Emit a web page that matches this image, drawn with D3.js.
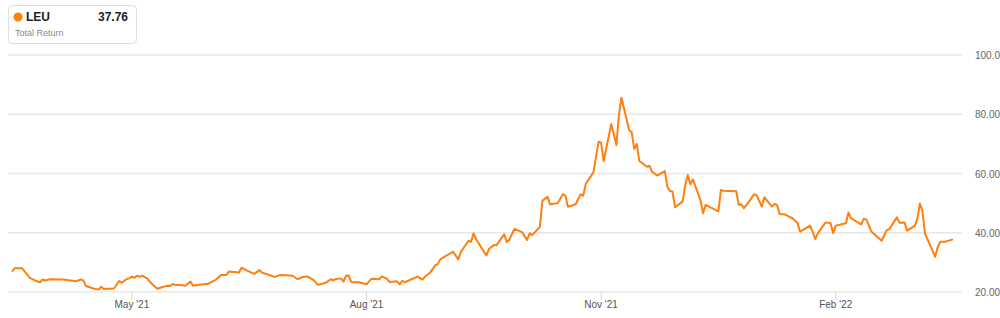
<!DOCTYPE html>
<html>
<head>
<meta charset="utf-8">
<script src="https://cdn.jsdelivr.net/npm/d3@7"></script>
<style>
  html, body { margin: 0; padding: 0; background: #fff; }
  svg { display: block; font-family: "Liberation Sans", Arial, sans-serif; }
</style>
</head>
<body>
<svg id="chart" width="1000" height="318"></svg>
<script>
const ticker = "LEU";
const lastValueLabel = "37.76";
const seriesLabel = "Total Return";
const yTicks = [20, 40, 60, 80, 100];
const xTickDates = ["2021-05-01", "2021-08-01", "2021-11-01", "2022-02-01"];
const xTickLabels = ["May '21", "Aug '21", "Nov '21", "Feb '22"];

const dates = [
  "2021-03-15","2021-03-16","2021-03-19","2021-03-22","2021-03-24","2021-03-26","2021-03-27","2021-03-28","2021-03-30",
  "2021-04-04","2021-04-09","2021-04-11","2021-04-12","2021-04-13","2021-04-16","2021-04-18","2021-04-19","2021-04-20",
  "2021-04-24","2021-04-26","2021-04-27","2021-04-29","2021-04-30",
  "2021-05-01","2021-05-02","2021-05-03","2021-05-04","2021-05-05","2021-05-07","2021-05-09","2021-05-11","2021-05-13",
  "2021-05-15","2021-05-16","2021-05-17","2021-05-18","2021-05-20","2021-05-22","2021-05-24","2021-05-25","2021-05-28","2021-05-31",
  "2021-06-03","2021-06-05","2021-06-07","2021-06-08","2021-06-12","2021-06-13","2021-06-15","2021-06-18","2021-06-20","2021-06-21",
  "2021-06-26","2021-06-28",
  "2021-07-03","2021-07-05","2021-07-07","2021-07-09","2021-07-11","2021-07-13","2021-07-16","2021-07-18","2021-07-19","2021-07-20",
  "2021-07-22","2021-07-23","2021-07-24","2021-07-25","2021-07-26","2021-07-29",
  "2021-08-01","2021-08-03","2021-08-06","2021-08-07","2021-08-09","2021-08-10","2021-08-13","2021-08-14","2021-08-15","2021-08-16",
  "2021-08-21","2021-08-23","2021-08-24","2021-08-26","2021-08-28","2021-08-29","2021-08-30",
  "2021-09-04","2021-09-06","2021-09-07","2021-09-10","2021-09-11","2021-09-12","2021-09-13","2021-09-17","2021-09-18","2021-09-20",
  "2021-09-21","2021-09-24","2021-09-25","2021-09-26","2021-09-28",
  "2021-10-01","2021-10-03","2021-10-04","2021-10-05","2021-10-08","2021-10-09","2021-10-11","2021-10-12","2021-10-15","2021-10-17",
  "2021-10-18","2021-10-19","2021-10-22","2021-10-24","2021-10-25","2021-10-26","2021-10-29","2021-10-31",
  "2021-11-01","2021-11-02","2021-11-05","2021-11-07","2021-11-08","2021-11-09","2021-11-12","2021-11-13","2021-11-14","2021-11-15",
  "2021-11-16","2021-11-19","2021-11-20","2021-11-21","2021-11-23","2021-11-26","2021-11-27","2021-11-28","2021-11-29","2021-11-30",
  "2021-12-03","2021-12-04","2021-12-05","2021-12-06","2021-12-07","2021-12-10","2021-12-11","2021-12-12","2021-12-17","2021-12-18",
  "2021-12-19","2021-12-24","2021-12-25","2021-12-26","2021-12-27","2021-12-29","2021-12-31",
  "2022-01-01","2022-01-03","2022-01-04","2022-01-07","2022-01-08","2022-01-09","2022-01-10","2022-01-12","2022-01-15","2022-01-17",
  "2022-01-18","2022-01-22","2022-01-24","2022-01-25","2022-01-28","2022-01-30","2022-01-31",
  "2022-02-01","2022-02-05","2022-02-06","2022-02-07","2022-02-11","2022-02-12","2022-02-13","2022-02-15","2022-02-19","2022-02-21",
  "2022-02-22","2022-02-25","2022-02-26","2022-02-28",
  "2022-03-01","2022-03-04","2022-03-05","2022-03-06","2022-03-07","2022-03-08","2022-03-12","2022-03-13","2022-03-14","2022-03-16",
  "2022-03-19"
];

const values = [
  26.9,28.0,28.0,24.8,23.9,23.3,24.2,23.9,24.3,
  24.2,23.6,24.2,23.9,22.0,21.2,20.8,21.8,21.0,
  21.2,23.7,23.1,24.4,24.6,
  25.2,24.8,25.5,25.1,25.5,24.6,22.6,21.1,21.7,
  22.1,22.0,22.7,22.4,22.4,22.1,23.5,22.1,22.5,22.8,
  24.2,25.7,25.7,26.9,26.6,28.2,27.3,26.1,27.4,26.6,
  25.1,25.7,
  25.5,24.3,25.1,25.2,24.2,22.4,23.1,24.3,23.9,24.4,
  24.6,23.5,25.5,25.6,23.4,23.3,
  22.6,24.5,24.3,25.3,24.5,23.4,23.6,22.6,23.8,23.3,
  25.2,24.2,25.2,26.6,29.0,29.5,31.1,
  33.6,31.0,33.5,37.3,36.9,39.8,37.8,32.3,34.5,35.9,
  35.8,39.5,36.9,37.6,41.3,
  40.2,37.6,39.8,39.2,42.0,50.8,52.1,49.6,50.0,53.0,
  52.6,48.8,49.6,53.0,52.5,56.5,60.4,70.7,
  70.4,64.2,76.7,69.6,79.7,85.6,74.7,73.9,68.3,70.0,
  64.2,62.3,62.6,60.6,59.3,60.8,55.5,54.1,53.9,48.6,
  50.5,56.1,59.5,56.4,58.0,50.9,46.6,49.4,47.2,54.4,
  54.2,54.0,49.4,49.6,48.3,50.5,53.0,
  52.7,48.8,52.0,48.8,49.7,49.4,46.3,46.2,44.9,43.4,
  40.4,42.4,37.9,39.8,43.5,43.2,39.8,
  42.4,43.2,46.8,44.9,42.8,44.7,44.5,40.4,37.3,40.9,
  41.2,45.2,43.4,43.5,
  40.7,42.3,44.6,49.9,47.4,39.8,31.9,35.1,37.0,37.0,
  37.76
];

const parse = d3.timeParse("%Y-%m-%d");
const data = dates.map((d, i) => ({ date: parse(d), value: values[i] }));

const svg = d3.select("#chart");

const x = d3.scaleTime()
  .domain(d3.extent(data, d => d.date))
  .range([12, 953]);
const y = d3.scaleLinear()
  .domain([20, 100])
  .range([292, 55]);

// gridlines
svg.append("g")
  .selectAll("line")
  .data(yTicks)
  .join("line")
  .attr("x1", 8)
  .attr("x2", 962)
  .attr("y1", d => y(d))
  .attr("y2", d => y(d))
  .attr("stroke", "#e8e8e8")
  .attr("stroke-width", 1.5);

// y labels
svg.append("g")
  .selectAll("text")
  .data(yTicks)
  .join("text")
  .attr("x", 975)
  .attr("y", d => y(d) + 4)
  .attr("font-size", 10)
  .attr("fill", "#666")
  .text(d => d.toFixed(2));

// x ticks
const xt = svg.append("g");
xTickDates.forEach((d, i) => {
  const px = x(parse(d));
  xt.append("line")
    .attr("x1", px).attr("x2", px)
    .attr("y1", 292).attr("y2", 300)
    .attr("stroke", "#d8d8d8")
    .attr("stroke-width", 1);
  xt.append("text")
    .attr("x", px)
    .attr("y", 308)
    .attr("text-anchor", "middle")
    .attr("font-size", 10)
    .attr("fill", "#555")
    .text(xTickLabels[i]);
});

// line
const line = d3.line()
  .x(d => x(d.date))
  .y(d => y(d.value));

svg.append("path")
  .datum(data)
  .attr("d", line)
  .attr("fill", "none")
  .attr("stroke", "#ff7f0f")
  .attr("stroke-width", 2)
  .attr("stroke-linejoin", "round");

// legend box
const lg = svg.append("g");
lg.append("rect")
  .attr("x", 8.5).attr("y", 5.5)
  .attr("width", 128).attr("height", 38)
  .attr("rx", 4)
  .attr("fill", "#fff")
  .attr("stroke", "#dedede");
lg.append("circle")
  .attr("cx", 18).attr("cy", 17)
  .attr("r", 4.5)
  .attr("fill", "#ff7f0f");
lg.append("text")
  .attr("x", 26).attr("y", 21)
  .attr("font-size", 12)
  .attr("font-weight", "bold")
  .attr("fill", "#222")
  .text(ticker);
lg.append("text")
  .attr("x", 128).attr("y", 21)
  .attr("text-anchor", "end")
  .attr("font-size", 12)
  .attr("font-weight", "bold")
  .attr("fill", "#222")
  .text(lastValueLabel);
lg.append("text")
  .attr("x", 15).attr("y", 36)
  .attr("font-size", 9)
  .attr("fill", "#888")
  .text(seriesLabel);
</script>
</body>
</html>
